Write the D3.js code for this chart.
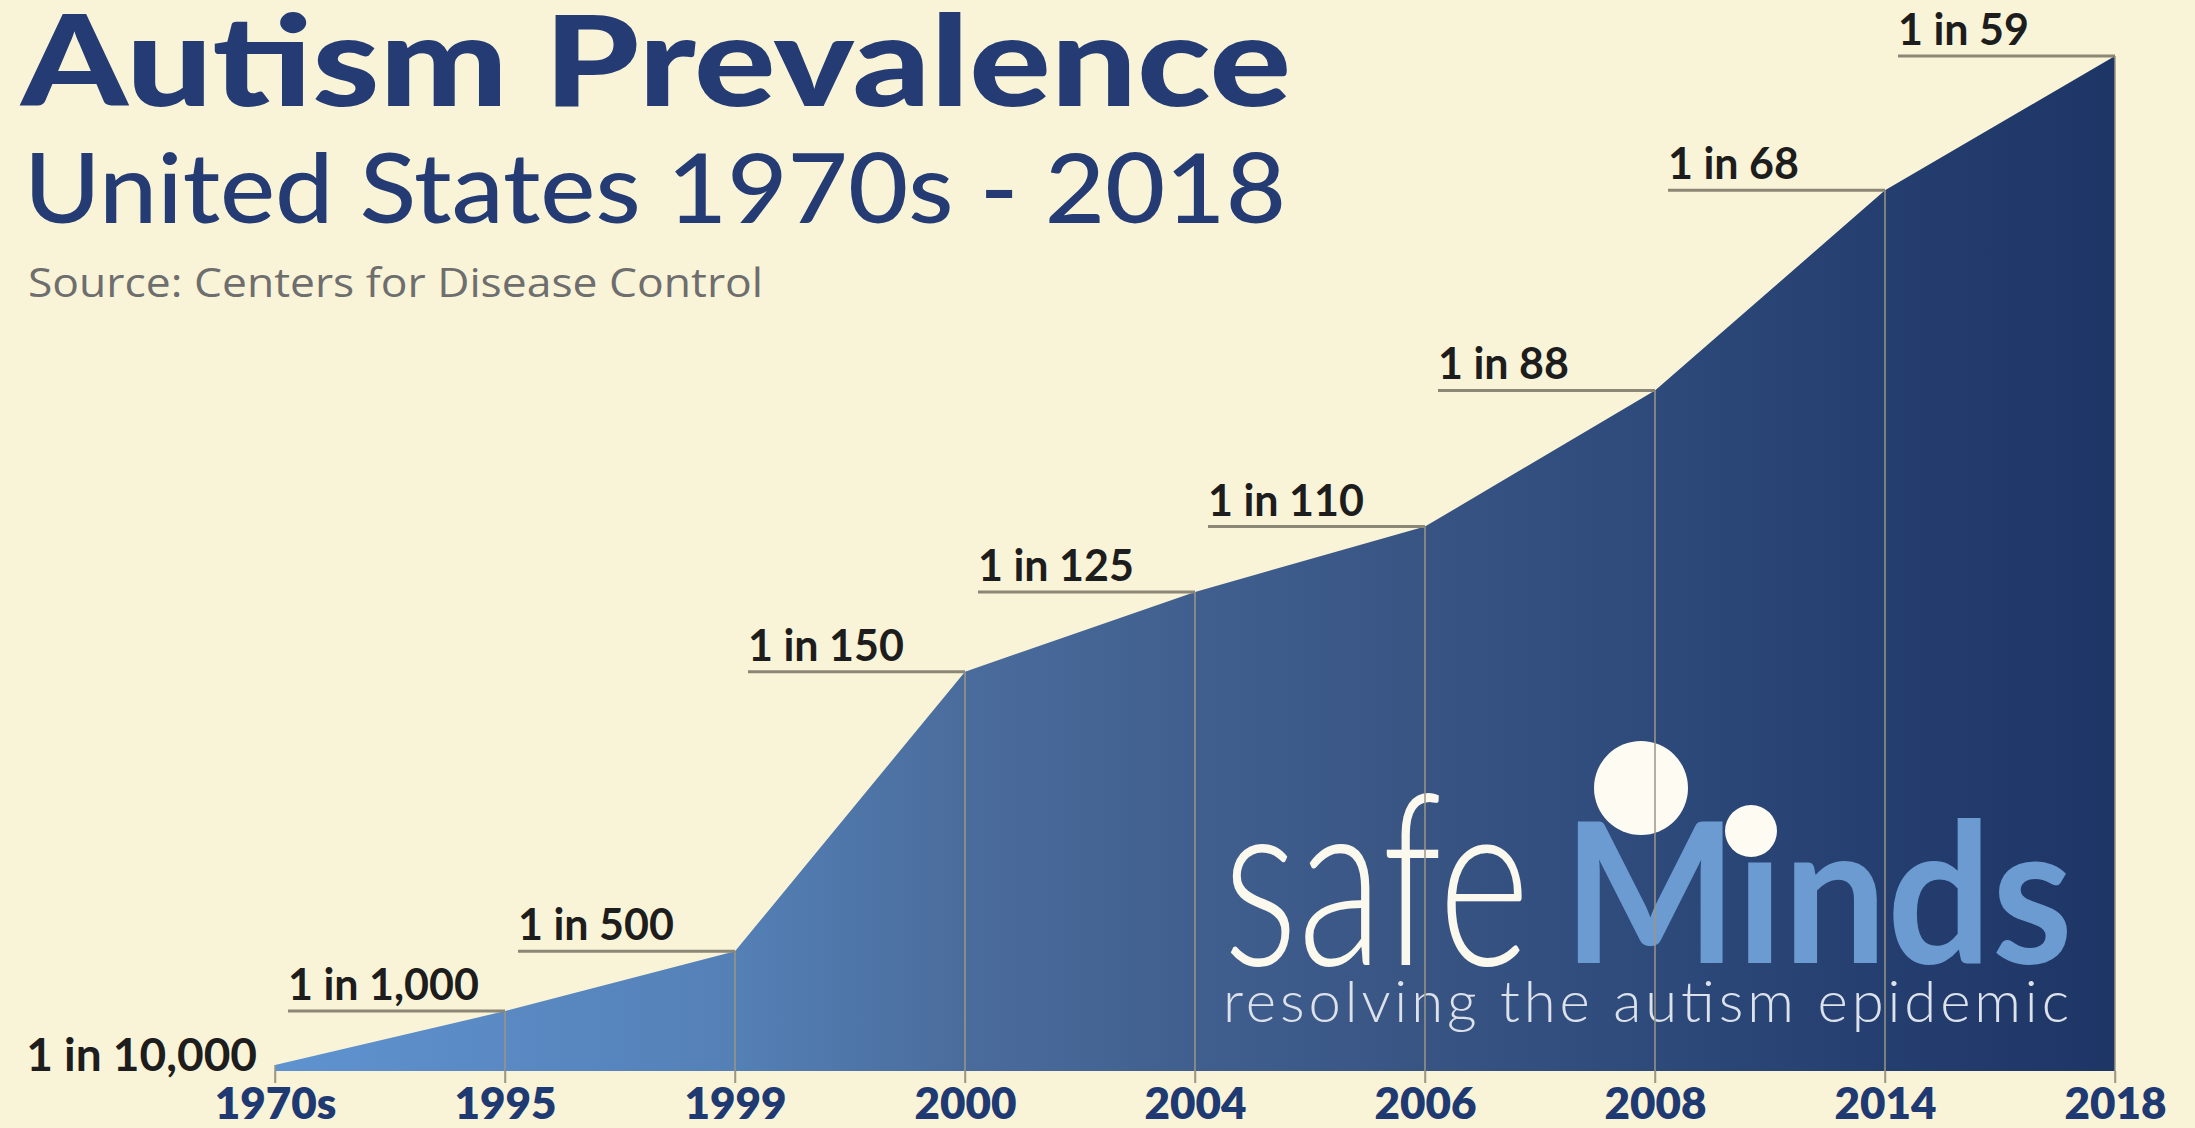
<!DOCTYPE html>
<html>
<head>
<meta charset="utf-8">
<script src="https://cdn.jsdelivr.net/npm/d3@7"></script>
<style>
  body { margin:0; background:#f9f4d7; }
  svg { display:block; }
</style>
</head>
<body>
<svg id="chart"></svg>
<script>

// datos: prevalencia "1 in N"
var years = ["1970s","1995","1999","2000","2004","2006","2008","2014","2018"];
var oneIn = [10000, 1000, 500, 150, 125, 110, 88, 68, 59];
var rateLabels = ["1 in 10,000","1 in 1,000","1 in 500","1 in 150","1 in 125","1 in 110","1 in 88","1 in 68","1 in 59"];

var W = 2195, H = 1128;
var baseY = 1071;

var svg = d3.select("#chart").attr("width", W).attr("height", H);

svg.append("rect").attr("width", W).attr("height", H).attr("fill", "#f9f4d7");

var data = years.map(function(y, i){ return {year:y, n:oneIn[i], label:rateLabels[i]}; });

var x = d3.scalePoint().domain(years).range([275, 2115]);
var y = d3.scaleLinear().domain([0, 1/59]).range([baseY, 56]);

// gradiente del area
var defs = svg.append("defs");
var grad = defs.append("linearGradient").attr("id", "areaGrad")
    .attr("gradientUnits", "userSpaceOnUse")
    .attr("x1", x("1970s")).attr("x2", x("2018")).attr("y1", 0).attr("y2", 0);
[[0, "#5e93d0"], [0.125, "#5a89c3"], [0.25, "#5480b6"], [0.375, "#4a6c9c"], [0.5, "#405f8f"],
 [0.625, "#385483"], [0.75, "#2d4a7b"], [0.875, "#243e6f"], [1, "#1e3666"]].forEach(function(s){
  grad.append("stop").attr("offset", s[0]).attr("stop-color", s[1]);
});

var area = d3.area()
    .x(function(d){ return x(d.year); })
    .y0(baseY)
    .y1(function(d){ return y(1/d.n); });

svg.append("path").datum(data)
    .attr("d", area)
    .attr("fill", "url(#areaGrad)");

// logo safeMinds
var logo = svg.append("g").attr("class", "logo");
logo.append("text")
    .attr("x", 1223).attr("y", 965)
    .attr("font-family", "Lato, 'Noto Sans', sans-serif")
    .attr("font-weight", 300).attr("font-size", 240)
    .attr("textLength", 307).attr("lengthAdjust", "spacingAndGlyphs")
    .attr("fill", "#fbf8ee")
    .text("safe");
logo.append("text")
    .attr("x", 1563).attr("y", 963)
    .attr("font-family", "Lato, 'Noto Sans', sans-serif")
    .attr("font-weight", 700).attr("font-size", 195)
    .attr("textLength", 510).attr("lengthAdjust", "spacingAndGlyphs")
    .attr("fill", "#6b9bd0")
    .text("Minds");
logo.append("text")
    .attr("x", 1223).attr("y", 1022)
    .attr("font-family", "Lato, 'Noto Sans', sans-serif")
    .attr("font-weight", 300).attr("font-size", 58)
    .attr("textLength", 846).attr("lengthAdjust", "spacing")
    .attr("fill", "#dde2ea")
    .text("resolving the autism epidemic");

// lineas verticales desde cada punto
svg.selectAll("line.drop")
    .data(data)
    .enter().append("line")
    .attr("class", "drop")
    .attr("x1", function(d){ return x(d.year); })
    .attr("x2", function(d){ return x(d.year); })
    .attr("y1", function(d){ return y(1/d.n); })
    .attr("y2", baseY + 12)
    .attr("stroke", "#9c9686")
    .attr("stroke-width", 1.5);

// circulos del logo encima
logo.append("circle").attr("cx", 1641).attr("cy", 788).attr("r", 47).attr("fill", "#fdfbf2");
logo.append("circle").attr("cx", 1751).attr("cy", 831).attr("r", 26).attr("fill", "#fdfbf2");

// lineas guia y etiquetas
var lead = 217;
var rest = data.slice(1);

svg.selectAll("line.leader")
    .data(rest)
    .enter().append("line")
    .attr("class", "leader")
    .attr("x1", function(d){ return x(d.year) - lead; })
    .attr("x2", function(d){ return x(d.year); })
    .attr("y1", function(d){ return y(1/d.n); })
    .attr("y2", function(d){ return y(1/d.n); })
    .attr("stroke", "#8b8675")
    .attr("stroke-width", 3);

svg.selectAll("text.rate")
    .data(data)
    .enter().append("text")
    .attr("class", "rate")
    .attr("x", function(d, i){ return i == 0 ? x(d.year) - 18 : x(d.year) - lead; })
    .attr("y", function(d, i){ return i == 0 ? baseY : y(1/d.n) - 11; })
    .attr("text-anchor", function(d, i){ return i == 0 ? "end" : "start"; })
    .attr("font-family", "Lato, 'Noto Sans', sans-serif")
    .attr("font-weight", 700)
    .attr("font-size", function(d, i){ return i == 0 ? 46 : 43; })
    .attr("fill", "#1d1d1d")
    .text(function(d){ return d.label; });

// eje x
var axis = svg.append("g")
    .attr("transform", "translate(0," + baseY + ")")
    .call(d3.axisBottom(x).tickSize(12).tickPadding(5));
axis.select(".domain").remove();
axis.selectAll(".tick line").attr("stroke", "#9c9686").attr("stroke-width", 1.5);
axis.selectAll(".tick text")
    .attr("font-family", "Lato, 'Noto Sans', sans-serif")
    .attr("font-weight", 800)
    .attr("font-size", 44)
    .attr("fill", "#1f3a72");

// titulos
svg.append("text")
    .attr("x", 21).attr("y", 106)
    .attr("font-family", "Lato, 'Noto Sans', sans-serif")
    .attr("font-weight", 900).attr("font-size", 125)
    .attr("textLength", 1270).attr("lengthAdjust", "spacingAndGlyphs")
    .attr("fill", "#243b73")
    .text("Autism Prevalence");
svg.append("text")
    .attr("x", 24).attr("y", 223)
    .attr("font-family", "Lato, 'Noto Sans', sans-serif")
    .attr("font-weight", 500).attr("font-size", 97)
    .attr("textLength", 1262).attr("lengthAdjust", "spacingAndGlyphs")
    .attr("fill", "#243b73")
    .text("United States 1970s - 2018");
svg.append("text")
    .attr("x", 28).attr("y", 297)
    .attr("font-family", "'Open Sans', 'Noto Sans', sans-serif")
    .attr("font-size", 40)
    .attr("textLength", 735).attr("lengthAdjust", "spacingAndGlyphs")
    .attr("fill", "#6e6e6e")
    .text("Source: Centers for Disease Control");

</script>
</body>
</html>
